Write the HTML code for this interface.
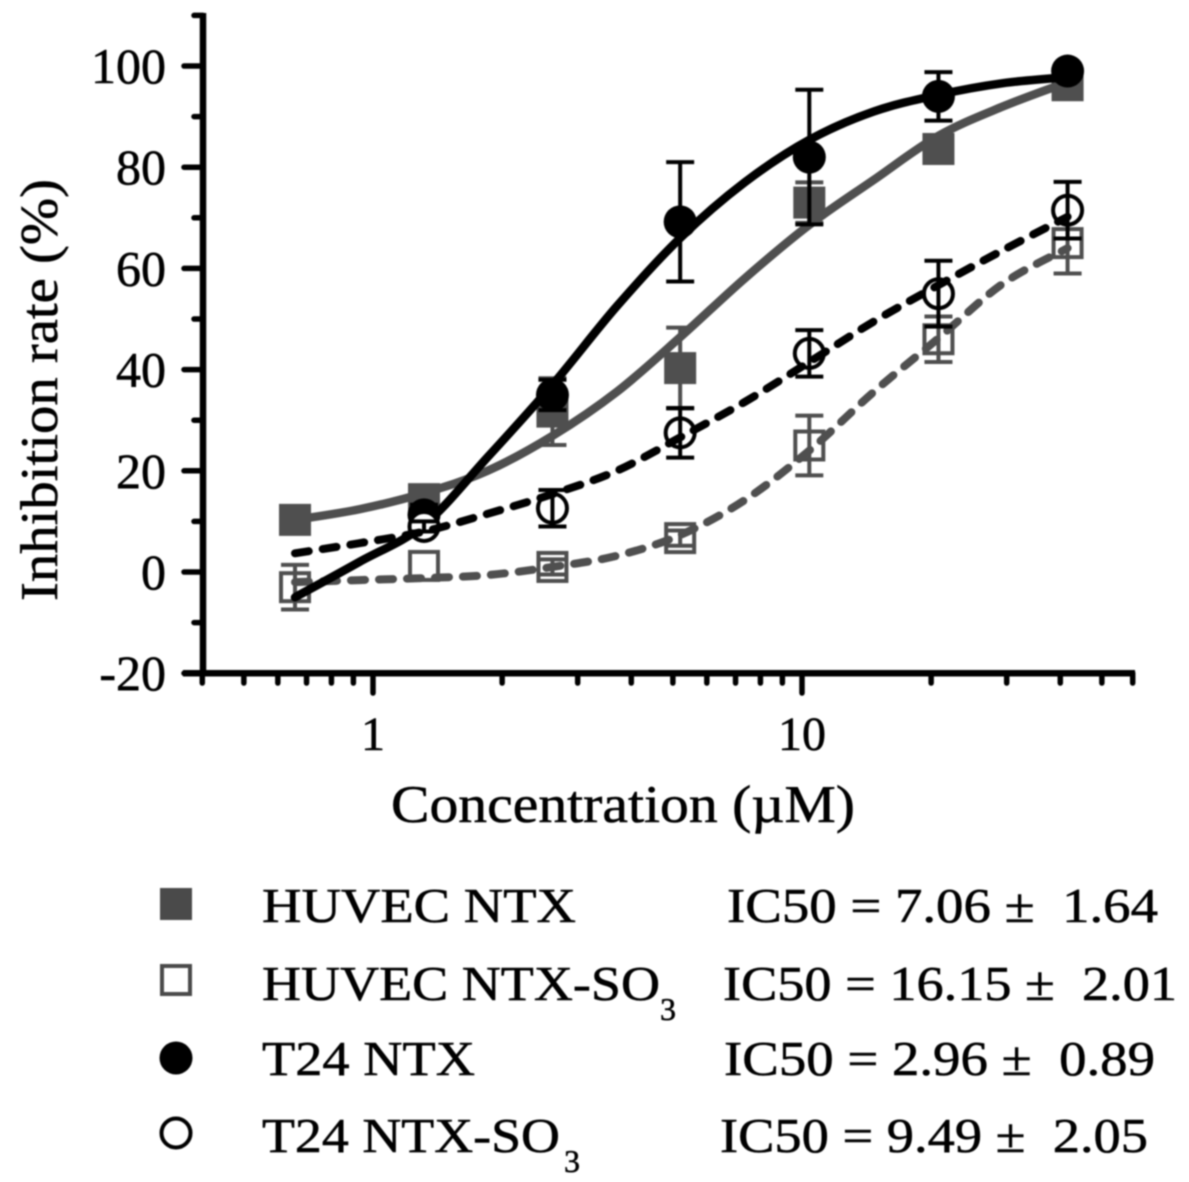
<!DOCTYPE html>
<html lang="en">
<head>
<meta charset="utf-8">
<title>Inhibition rate chart</title>
<style>
html,body{margin:0;padding:0;background:#fff;}
body{width:1189px;height:1182px;overflow:hidden;}
svg{display:block;filter:blur(0.7px);}
text{font-family:"Liberation Serif",serif;fill:#000;stroke:#000;stroke-width:0.55px;white-space:pre;}
</style>
</head>
<body>
<svg id="chart" width="1189" height="1182" viewBox="0 0 1189 1182" xmlns="http://www.w3.org/2000/svg">
  <text transform="translate(57,390) rotate(-90)" text-anchor="middle" font-size="53" textLength="422" lengthAdjust="spacingAndGlyphs">Inhibition rate (%)</text>
  <text x="391" y="822" font-size="53" textLength="464" lengthAdjust="spacingAndGlyphs">Concentration (µM)</text>

  <g>
    <rect x="160" y="888" width="32" height="32" fill="#4a4a4a"/>
    <text x="262" y="922" font-size="49" textLength="314" lengthAdjust="spacingAndGlyphs">HUVEC NTX</text>
    <text x="727" y="922" font-size="49" textLength="431" lengthAdjust="spacingAndGlyphs">IC50 = 7.06 ±  1.64</text>

    <rect x="162" y="966" width="28" height="28" fill="#fff" stroke="#4a4a4a" stroke-width="4"/>
    <text x="262" y="1000" font-size="49" textLength="398" lengthAdjust="spacingAndGlyphs">HUVEC NTX-SO</text>
    <text x="660" y="1020" font-size="32">3</text>
    <text x="723" y="1000" font-size="49" textLength="454" lengthAdjust="spacingAndGlyphs">IC50 = 16.15 ±  2.01</text>

    <circle cx="176" cy="1058" r="16.5" fill="#000"/>
    <text x="262" y="1075" font-size="49" textLength="213" lengthAdjust="spacingAndGlyphs">T24 NTX</text>
    <text x="724" y="1075" font-size="49" textLength="431" lengthAdjust="spacingAndGlyphs">IC50 = 2.96 ±  0.89</text>

    <circle cx="176" cy="1133" r="14.5" fill="#fff" stroke="#000" stroke-width="4"/>
    <text x="262" y="1152" font-size="49" textLength="298" lengthAdjust="spacingAndGlyphs">T24 NTX-SO</text>
    <text x="564" y="1172" font-size="32">3</text>
    <text x="720" y="1152" font-size="49" textLength="428" lengthAdjust="spacingAndGlyphs">IC50 = 9.49 ±  2.05</text>
  </g>
  <g id="plot"></g>
</svg>
<script>
const concentrations = [0.658, 1.315, 2.62, 5.2, 10.4, 20.8, 41.6];
const fitConcentrations = [0.658, 0.93, 1.315, 1.85, 2.62, 3.7, 5.2, 7.35, 10.4, 14.7, 20.8, 29.4, 41.6];

const huvecNtxValues = [10.3, 14.4, 31.7, 40.3, 73, 83.6, 96.2];
const huvecNtxErrors = [0, 0.5, 6.6, 8, 4, 0, 0];
const huvecNtxFit = [10.3, 12.4, 15.6, 20, 26.9, 35.6, 46.4, 58, 68.6, 77.5, 86.2, 92, 96.8];

const huvecSo3Values = [-3, 1.2, 1, 6.7, 25, 46, 65];
const huvecSo3Errors = [4.4, 0, 1.5, 1.5, 5.9, 4.5, 6];
const huvecSo3Fit = [-2, -1.6, -1.2, -0.6, 1, 3.2, 7.3, 14.2, 24, 35.6, 46.2, 57, 64];

const t24NtxValues = [null, 11.3, 35, 69.2, 82, 94, 99];
const t24NtxErrors = [0, 2, 3, 11.8, 13.3, 4.8, 0];
const t24NtxFit = [-5, 2, 9.3, 22.7, 37, 52.5, 66, 77, 85.4, 91, 94.3, 96.6, 97.8];

const t24So3Values = [null, 9, 12.6, 27.5, 43.2, 55, 71.5];
const t24So3Errors = [0, 1, 3.6, 4.9, 4.6, 6.5, 5.6];
const t24So3Fit = [3.7, 5.7, 8, 11.5, 15.4, 20, 26.6, 33.6, 41.5, 49.5, 56.7, 63.6, 70.2];

const yMajorTicks = [100, 80, 60, 40, 20, 0, -20];
const yMinorTicks = [110, 90, 70, 50, 30, 10, -10];
const yTickLabels = ['100', '80', '60', '40', '20', '0', '-20'];
const xMajorTicks = [1, 10];
const xTickLabels = ['1', '10'];
const xMinorTicks = [0.4, 0.5, 0.6, 0.7, 0.8, 0.9, 2, 3, 4, 5, 6, 7, 8, 9, 20, 30, 40, 50, 59];

const svgNS = 'http://www.w3.org/2000/svg';
const plot = document.getElementById('plot');
const GRAY = '#4f4f4f';
const BLACK = '#000';

function xScale(c) { return 373 + 429 * Math.log10(c); }
function yScale(v) { return 572 - 5.06 * v; }

function make(tag, attrs, parent) {
  const node = document.createElementNS(svgNS, tag);
  for (const k in attrs) node.setAttribute(k, attrs[k]);
  (parent || plot).appendChild(node);
  return node;
}

function smoothPath(xs, ys) {
  const pts = xs.map((c, i) => [xScale(c), yScale(ys[i])]);
  let d = 'M' + pts[0][0] + ' ' + pts[0][1];
  for (let i = 0; i < pts.length - 1; i++) {
    const p0 = pts[Math.max(i - 1, 0)], p1 = pts[i], p2 = pts[i + 1], p3 = pts[Math.min(i + 2, pts.length - 1)];
    const c1x = p1[0] + (p2[0] - p0[0]) / 6, c1y = p1[1] + (p2[1] - p0[1]) / 6;
    const c2x = p2[0] - (p3[0] - p1[0]) / 6, c2y = p2[1] - (p3[1] - p1[1]) / 6;
    d += ' C' + c1x + ' ' + c1y + ' ' + c2x + ' ' + c2y + ' ' + p2[0] + ' ' + p2[1];
  }
  return d;
}

function drawAxes() {
  const axisY = make('line', {x1: 203, x2: 203, y1: 13, y2: 676, stroke: BLACK, 'stroke-width': 6.5});
  
  
  const axisX = make('line', {x1: 183, x2: 1135, y1: yScale(-20), y2: yScale(-20), stroke: BLACK, 'stroke-width': 6.5});
  
  

  yMajorTicks.forEach((v, i) => {
    const t = make('line', {x1: 184, x2: 203, y1: yScale(v), y2: yScale(v), stroke: BLACK, 'stroke-width': 5.5, 'stroke-linecap': 'round'});
    
    
    const lab = make('text', {x: 166, y: yScale(v) + 17, 'text-anchor': 'end', 'font-size': 50});
    lab.textContent = yTickLabels[i];
    
    
  });
  yMinorTicks.forEach(v => {
    const t = make('line', {x1: 194, x2: 203, y1: yScale(v), y2: yScale(v), stroke: BLACK, 'stroke-width': 5.5, 'stroke-linecap': 'round'});
    
    
  });
  xMajorTicks.forEach((c, i) => {
    const t = make('line', {x1: xScale(c), x2: xScale(c), y1: 673, y2: 693, stroke: BLACK, 'stroke-width': 5.5, 'stroke-linecap': 'round'});
    
    
    const lab = make('text', {x: xScale(c), y: 750, 'text-anchor': 'middle', 'font-size': 48});
    lab.textContent = xTickLabels[i];
    
    
  });
  xMinorTicks.forEach(c => {
    const t = make('line', {x1: xScale(c), x2: xScale(c), y1: 673, y2: 683, stroke: BLACK, 'stroke-width': 5.5, 'stroke-linecap': 'round'});
    
    
  });
}

function drawSeries(name, values, errors, fit, color, dashed, shape, filled) {
  const group = make('g', {});
  
  

  // markers sit under the fit line and error bars
  values.forEach((v, i) => {
    if (v === null) return;
    const cx = xScale(concentrations[i]), cy = yScale(v);
    let m;
    if (shape === 'square') {
      const s = filled ? 32 : 28;
      m = make('rect', {x: cx - s / 2, y: cy - s / 2, width: s, height: s, fill: filled ? color : '#fff', stroke: filled ? 'none' : color, 'stroke-width': filled ? 0 : 4}, group);
    } else {
      const r = filled ? 16.5 : 14.5;
      m = make('circle', {cx: cx, cy: cy, r: r, fill: filled ? color : '#fff', stroke: filled ? 'none' : color, 'stroke-width': filled ? 0 : 4}, group);
    }
    
    
  });

  values.forEach((v, i) => {
    if (v === null || !errors[i]) return;
    const cx = xScale(concentrations[i]);
    const top = yScale(v + errors[i]), bottom = yScale(v - errors[i]);
    const bar = make('path', {
      d: 'M' + cx + ' ' + top + 'V' + bottom + 'M' + (cx - 14) + ' ' + top + 'H' + (cx + 14) + 'M' + (cx - 14) + ' ' + bottom + 'H' + (cx + 14),
      fill: 'none', stroke: color, 'stroke-width': 4
    }, group);
    
    
  });

  const line = make('path', {d: smoothPath(fitConcentrations, fit), fill: 'none', stroke: color, 'stroke-width': dashed ? 8 : 8.5, 'stroke-linecap': 'round'}, group);
  if (dashed) line.setAttribute('stroke-dasharray', '14 14');
  
  
}

drawAxes();
drawSeries('huvec-ntx', huvecNtxValues, huvecNtxErrors, huvecNtxFit, GRAY, false, 'square', true);
drawSeries('huvec-ntx-so3', huvecSo3Values, huvecSo3Errors, huvecSo3Fit, GRAY, true, 'square', false);
drawSeries('t24-ntx', t24NtxValues, t24NtxErrors, t24NtxFit, BLACK, false, 'circle', true);
drawSeries('t24-ntx-so3', t24So3Values, t24So3Errors, t24So3Fit, BLACK, true, 'circle', false);
</script>
</body>
</html>
